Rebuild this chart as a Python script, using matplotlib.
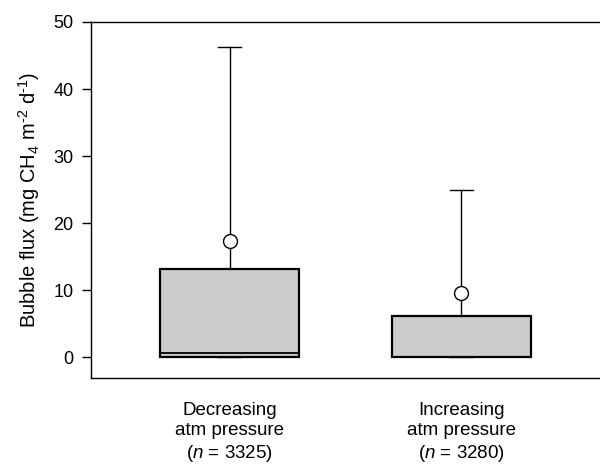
import numpy as np
import matplotlib
matplotlib.use("Agg")
import matplotlib.pyplot as plt

plt.rcParams['font.family'] = ['Liberation Sans', 'DejaVu Sans']
plt.rcParams['mathtext.fontset'] = 'custom'
plt.rcParams['mathtext.rm'] = 'Liberation Sans'
plt.rcParams['mathtext.it'] = 'Liberation Sans:italic'

# box statistics (mg CH4 m-2 d-1)
groups = ['Decreasing\natm pressure\n($\\mathit{n}$ = 3325)',
          'Increasing\natm pressure\n($\\mathit{n}$ = 3280)']
q1 = [0.0, 0.0]
medians = [0.7, 0.0]
q3 = [13.1, 6.2]
whisker_low = [0.0, 0.0]
whisker_high = [46.3, 24.9]
means = [17.4, 9.6]

stats = []
for i in range(len(groups)):
    stats.append({'q1': q1[i], 'med': medians[i], 'q3': q3[i],
                  'whislo': whisker_low[i], 'whishi': whisker_high[i],
                  'mean': means[i], 'fliers': []})

fig = plt.figure(figsize=(6.0, 4.66), dpi=100)
ax = fig.add_axes([91 / 600, 88 / 466, 509 / 600, 356 / 466])

ax.bxp(stats, positions=[1, 2], widths=0.6, showmeans=True, patch_artist=True,
       boxprops=dict(facecolor='#cdcdcd', edgecolor='black', linewidth=1.6),
       medianprops=dict(color='black', linewidth=1.3),
       whiskerprops=dict(color='black', linewidth=1.0),
       capprops=dict(color='black', linewidth=1.0),
       capwidths=0.1,
       meanprops=dict(marker='o', markerfacecolor='white', markeredgecolor='black',
                      markersize=10, markeredgewidth=1.0))

ax.set_xlim(0.4, 2.6)
ax.set_ylim(-3.1, 50)
ax.set_yticks([0, 10, 20, 30, 40, 50])
ax.set_xticks([1, 2])
ax.set_xticklabels(groups, fontsize=13.5, linespacing=1.27)
ax.tick_params(axis='x', length=0, pad=17)
ax.tick_params(axis='y', length=6.5, width=1.0, labelsize=13, pad=6)
ax.set_ylabel('Bubble flux (mg CH$_4$ m$^{\\text{-}2}$ d$^{\\text{-}1}$)',
              fontsize=14.5, labelpad=8)

ax.spines['right'].set_visible(False)
for s in ['left', 'top', 'bottom']:
    ax.spines[s].set_linewidth(1.0)

fig.savefig('out.png', dpi=100)
